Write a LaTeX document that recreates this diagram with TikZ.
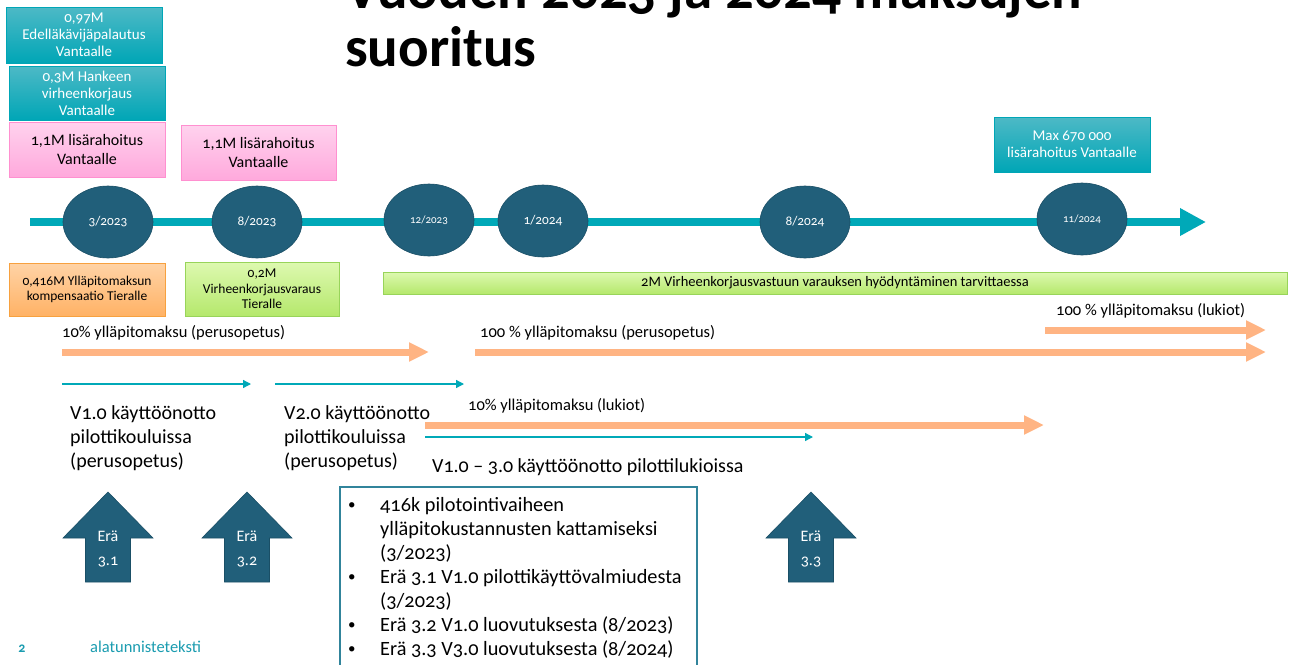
\documentclass[tikz,border=0pt]{standalone}
\usepackage{fontspec}
\setmainfont{Carlito}[Numbers=OldStyle]
\usetikzlibrary{arrows.meta,shapes.geometric}
\definecolor{tealtop}{HTML}{4DB9C6}
\definecolor{tealbot}{HTML}{00A6B6}
\definecolor{tline}{HTML}{00A9B8}
\definecolor{darkteal}{HTML}{215F7A}
\definecolor{darkedge}{HTML}{1A4F66}
\definecolor{pinktop}{HTML}{FFD2EE}
\definecolor{pinkbot}{HTML}{FFA9DC}
\definecolor{pinkedge}{HTML}{FF90D0}
\definecolor{orangetop}{HTML}{FFD3A6}
\definecolor{orangebot}{HTML}{FFB265}
\definecolor{orangeedge}{HTML}{F7A13F}
\definecolor{greentop}{HTML}{DDF9B0}
\definecolor{greenbot}{HTML}{B5E86C}
\definecolor{greenedge}{HTML}{98D45A}
\definecolor{oarr}{HTML}{FFB483}
\definecolor{boxedge}{HTML}{31849B}
\definecolor{foot}{HTML}{1A9CB0}
\tikzset{
  tealbox/.style={rectangle, inner sep=0pt, top color=tealtop, bottom color=tealbot, draw=tealbot, text=white, align=center, font=\fontsize{15}{17}\selectfont},
  pinkbox/.style={rectangle, inner sep=0pt, top color=pinktop, bottom color=pinkbot, draw=pinkedge, line width=1pt, text=black, align=center, font=\fontsize{16}{19.5}\selectfont},
  orangebox/.style={rectangle, inner sep=0pt, top color=orangetop, bottom color=orangebot, draw=orangeedge, line width=1pt, text=black, align=center, font=\fontsize{13.5}{15.5}\selectfont},
  greenbox/.style={rectangle, inner sep=0pt, top color=greentop, bottom color=greenbot, draw=greenedge, line width=1pt, text=black, align=center, font=\fontsize{13.5}{15.5}\selectfont},
  datecirc/.style={ellipse, inner sep=0pt, minimum width=90pt, minimum height=72pt, fill=darkteal, draw=darkedge, line width=0.6pt, text=white, font=\fontsize{13.3}{15}\selectfont},
  tealline/.style={draw=tline, line width=8pt, -{Triangle[length=26pt,width=26pt]}},
  oarrow/.style={draw=oarr, line width=7pt, -{Triangle[length=20pt,width=18pt]}},
  thinarrow/.style={draw=tline, line width=1.3pt, -{Triangle[length=8pt,width=8pt]}},
  lbl/.style={anchor=base west, inner sep=0pt, font=\fontsize{16.5}{19}\selectfont},
  bigtext/.style={anchor=base west, inner sep=0pt, align=left, font=\fontsize{20}{24}\selectfont},
  upbox/.style={fill=darkteal, draw=darkedge, line width=0.6pt},
  uplbl/.style={text=white, align=center, inner sep=0pt, font=\fontsize{16}{24}\selectfont},
  listline/.style={anchor=base west, inner sep=0pt, font=\fontsize{20.3}{24}\selectfont},
}
\begin{document}
\begin{tikzpicture}[x=1pt,y=-1pt]
\useasboundingbox (0,0) rectangle (1295,664);
\fill[white] (0,0) rectangle (1295,664);

% title
\node[anchor=base west, inner sep=0pt, font=\fontsize{57}{60}\selectfont\bfseries] (title1) at (345,8) {Vuoden 2023 ja 2024 maksujen};
\node[anchor=base west, inner sep=0pt, font=\fontsize{57}{60}\selectfont\bfseries] (title2) at (345,66) {suoritus};

% top boxes
\node[tealbox, minimum width=156pt, minimum height=56pt] (b1) at (84,35) {0,97M\\Edelläkävijäpalautus\\Vantaalle};
\node[tealbox, minimum width=156pt, minimum height=54pt] (b2) at (87,93) {0,3M Hankeen\\virheenkorjaus\\Vantaalle};
\node[pinkbox, minimum width=156pt, minimum height=55pt] (p1) at (87,149.5) {1,1M lisärahoitus\\Vantaalle};
\node[pinkbox, minimum width=155pt, minimum height=55pt] (p2) at (258.5,152.5) {1,1M lisärahoitus\\Vantaalle};
\node[tealbox, minimum width=156pt, minimum height=55pt] (b3) at (1072,144.5) {Max 670 000\\lisärahoitus Vantaalle};

% timeline
\coordinate (tl0) at (30,222);
\coordinate (tl1) at (1206,222);
\draw[tealline] (tl0) -- (tl1);
\node[datecirc] (c1) at (108,222) {3/2023};
\node[datecirc] (c2) at (257,222) {8/2023};
\node[datecirc, font=\fontsize{11}{13}\selectfont] (c3) at (429,220) {12/2023};
\node[datecirc] (c4) at (543,221) {1/2024};
\node[datecirc] (c5) at (805,222) {8/2024};
\node[datecirc, font=\fontsize{11}{13}\selectfont] (c6) at (1082,219) {11/2024};

% boxes under timeline
\node[orangebox, minimum width=156pt, minimum height=53pt] (o1) at (87,289.5) {0,416M Ylläpitomaksun\\kompensaatio Tieralle};
\node[greenbox, minimum width=154pt, minimum height=54pt] (g1) at (262,289) {0,2M\\Virheenkorjausvaraus\\Tieralle};
\node[greenbox, minimum width=904pt, minimum height=22pt, font=\fontsize{14.5}{16}\selectfont] (g2) at (835,283) {2M Virheenkorjausvastuun varauksen hyödyntäminen tarvittaessa};

% orange arrows
\node[lbl] (t1) at (62,337) {10\% ylläpitomaksu (perusopetus)};
\coordinate (a1s) at (62,352); \coordinate (a1e) at (429,352);
\draw[oarrow] (a1s) -- (a1e);
\node[lbl] (t2) at (480,337) {100 \% ylläpitomaksu (perusopetus)};
\coordinate (a2s) at (475,352); \coordinate (a2e) at (1266,352);
\draw[oarrow] (a2s) -- (a2e);
\node[lbl] (t3) at (1056,315) {100 \% ylläpitomaksu (lukiot)};
\coordinate (a3s) at (1045,330); \coordinate (a3e) at (1266,330);
\draw[oarrow] (a3s) -- (a3e);
\node[lbl] (t4) at (468,410) {10\% ylläpitomaksu (lukiot)};
\coordinate (a4s) at (425,425); \coordinate (a4e) at (1044,425);
\draw[oarrow] (a4s) -- (a4e);

% thin arrows
\coordinate (s1s) at (62,384); \coordinate (s1e) at (251,384);
\draw[thinarrow] (s1s) -- (s1e);
\coordinate (s2s) at (275,384); \coordinate (s2e) at (464,384);
\draw[thinarrow] (s2s) -- (s2e);
\coordinate (s3s) at (425,437); \coordinate (s3e) at (813,437);
\draw[thinarrow] (s3s) -- (s3e);

% deployment texts (anchor = baseline of last line)
\node[bigtext] (v1) at (70,467) {V1.0 käyttöönotto\\pilottikouluissa\\(perusopetus)};
\node[bigtext] (v2) at (284,467) {V2.0 käyttöönotto\\pilottikouluissa\\(perusopetus)};
\node[bigtext] (v3) at (432,472) {V1.0 – 3.0 käyttöönotto pilottilukioissa};

% up arrows
\foreach \cx/\nm/\lab in {108/e1/3.1, 247/e2/3.2, 811/e3/3.3}{
  \path[upbox] (\cx,492) -- (\cx+45,538) -- (\cx+22.5,538) -- (\cx+22.5,582) -- (\cx-22.5,582) -- (\cx-22.5,538) -- (\cx-45,538) -- cycle;
  \node[uplbl] (\nm) at (\cx,549) {Erä\\\lab};
}

% bullet box
\draw[draw=boxedge, line width=1.5pt] (340,487) rectangle (697,672);
\node[listline] (l1) at (380,511) {416k pilotointivaiheen};
\node[listline] (l2) at (380,535) {ylläpitokustannusten kattamiseksi};
\node[listline] (l3) at (380,559) {(3/2023)};
\node[listline] (l4) at (380,583) {Erä 3.1 V1.0 pilottikäyttövalmiudesta};
\node[listline] (l5) at (380,607) {(3/2023)};
\node[listline] (l6) at (380,631) {Erä 3.2 V1.0 luovutuksesta (8/2023)};
\node[listline] (l7) at (380,655) {Erä 3.3 V3.0 luovutuksesta (8/2024)};
\foreach \yy/\nm in {511/d1, 583/d2, 631/d3, 655/d4}{
  \node[listline, font=\fontsize{15}{18}\selectfont] (\nm) at (348,\yy-2) {•};
}

% footer
\node[anchor=base, inner sep=0pt, text=foot, font=\fontsize{14}{16}\selectfont\bfseries] (pg) at (22,652) {2};
\node[anchor=base west, inner sep=0pt, text=foot, font=\fontsize{16.5}{18}\selectfont] (ft) at (90,652) {alatunnisteteksti};
\end{tikzpicture}
\end{document}
